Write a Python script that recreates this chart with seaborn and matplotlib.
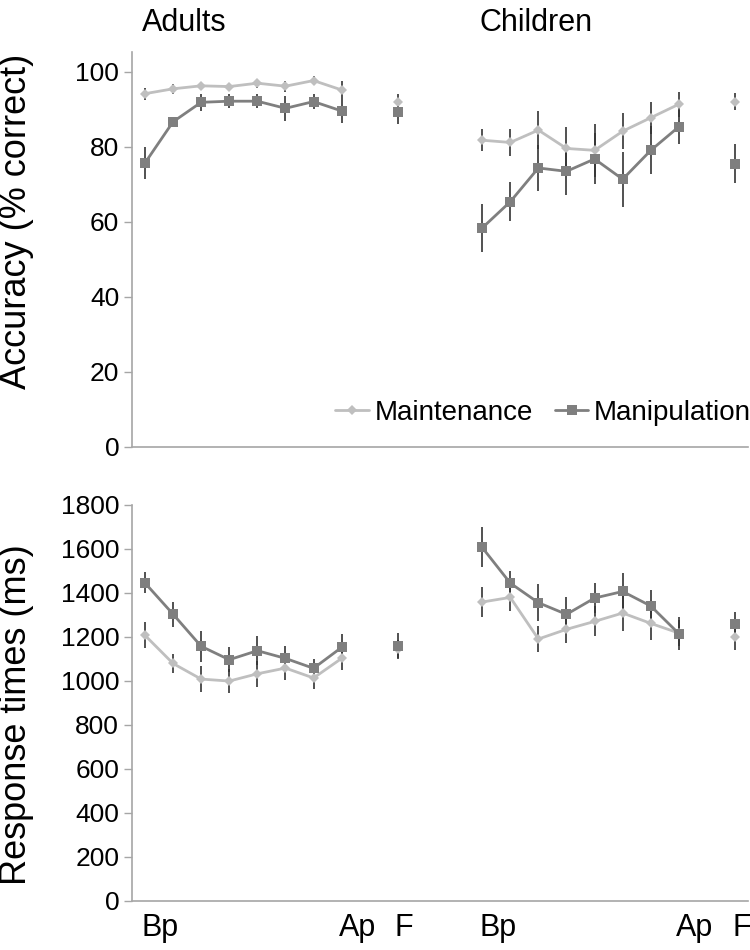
import numpy as np
import pandas as pd
import matplotlib
matplotlib.use("Agg")
import matplotlib.pyplot as plt
import matplotlib.transforms as mtransforms
import seaborn as sns

# x positions: adults Bp..Ap = 0..7, F = 9 ; children Bp..Ap = 12..19, F = 21
adult_x = [0, 1, 2, 3, 4, 5, 6, 7]
child_x = [12, 13, 14, 15, 16, 17, 18, 19]
adult_f = 9
child_f = 21
tick_pos = [0, 7, 9, 12, 19, 21]
tick_labels = ["Bp", "Ap", "F", "Bp", "Ap", "F"]
groups = ["Adults", "Children"]

# accuracy (% correct)
acc_ad_maint = [94.1, 95.4, 96.2, 96.0, 96.9, 96.1, 97.6, 95.1]
acc_ad_maint_err = [1.6, 1.3, 1.0, 1.0, 1.2, 1.5, 1.3, 2.3]
acc_ad_manip = [75.6, 86.6, 91.8, 92.1, 92.1, 90.2, 92.0, 89.5]
acc_ad_manip_err = [4.3, 1.4, 2.3, 1.9, 1.9, 3.3, 2.1, 3.2]
acc_ad_f = [91.8, 89.1]
acc_ad_f_err = [2.2, 3.1]

acc_ch_maint = [81.7, 81.1, 84.4, 79.5, 79.0, 84.1, 87.7, 91.3]
acc_ch_maint_err = [2.9, 3.7, 5.1, 5.8, 7.1, 4.8, 4.3, 3.3]
acc_ch_manip = [58.3, 65.3, 74.3, 73.4, 76.7, 71.3, 79.0, 85.3]
acc_ch_manip_err = [6.3, 5.2, 6.2, 6.4, 6.8, 7.3, 6.4, 4.5]
acc_ch_f = [92.0, 75.4]
acc_ch_f_err = [2.2, 5.2]

# response times (ms)
rt_ad_maint = [1207, 1079, 1008, 999, 1032, 1058, 1013, 1102]
rt_ad_maint_err = [60, 44, 58, 55, 59, 56, 50, 53]
rt_ad_manip = [1445, 1303, 1157, 1096, 1137, 1102, 1057, 1152]
rt_ad_manip_err = [48, 57, 70, 56, 67, 56, 42, 60]
rt_ad_f = [1145, 1157]
rt_ad_f_err = [40, 60]

rt_ch_maint = [1358, 1379, 1190, 1234, 1270, 1308, 1261, 1217]
rt_ch_maint_err = [67, 60, 61, 60, 68, 80, 76, 60]
rt_ch_manip = [1606, 1444, 1355, 1302, 1376, 1406, 1340, 1214]
rt_ch_manip_err = [91, 56, 83, 77, 68, 83, 71, 74]
rt_ch_f = [1198, 1259]
rt_ch_f_err = [60, 53]

conds = ["Maintenance", "Manipulation"]
colors = {"Maintenance": "#BFBFBF", "Manipulation": "#7F7F7F"}
markers = {"Maintenance": "D", "Manipulation": "s"}


def build(ad_maint, ad_manip, ad_f, ch_maint, ch_manip, ch_f,
          e_ad_maint, e_ad_manip, e_ad_f, e_ch_maint, e_ch_manip, e_ch_f):
    rows = []
    for cond, vals, errs in [("Maintenance", ad_maint, e_ad_maint),
                             ("Manipulation", ad_manip, e_ad_manip)]:
        for x, v, e in zip(adult_x, vals, errs):
            rows.append((x, v, e, cond, cond + "_ad"))
    for cond, vals, errs in [("Maintenance", ch_maint, e_ch_maint),
                             ("Manipulation", ch_manip, e_ch_manip)]:
        for x, v, e in zip(child_x, vals, errs):
            rows.append((x, v, e, cond, cond + "_ch"))
    for i, cond in enumerate(conds):
        rows.append((adult_f, ad_f[i], e_ad_f[i], cond, cond + "_adf"))
        rows.append((child_f, ch_f[i], e_ch_f[i], cond, cond + "_chf"))
    return pd.DataFrame(rows, columns=["x", "y", "err", "cond", "seg"])


df_acc = build(acc_ad_maint, acc_ad_manip, acc_ad_f, acc_ch_maint, acc_ch_manip, acc_ch_f,
               acc_ad_maint_err, acc_ad_manip_err, acc_ad_f_err,
               acc_ch_maint_err, acc_ch_manip_err, acc_ch_f_err)
df_rt = build(rt_ad_maint, rt_ad_manip, rt_ad_f, rt_ch_maint, rt_ch_manip, rt_ch_f,
              rt_ad_maint_err, rt_ad_manip_err, rt_ad_f_err,
              rt_ch_maint_err, rt_ch_manip_err, rt_ch_f_err)

sns.set_style("white")
plt.rcParams["font.family"] = ["Liberation Sans", "DejaVu Sans"]
plt.rcParams["text.color"] = "black"
plt.rcParams["axes.labelcolor"] = "black"
plt.rcParams["xtick.labelcolor"] = "black"
plt.rcParams["ytick.labelcolor"] = "black"

fig = plt.figure(figsize=(7.5, 9.5), dpi=100)
ax1 = fig.add_axes([0.1756, 0.5298, 0.8214, 0.4158])
ax2 = fig.add_axes([0.1756, 0.0516, 0.8214, 0.4171])


def draw(ax, df):
    ax.errorbar(df["x"], df["y"], yerr=df["err"], fmt="none",
                ecolor="#333333", elinewidth=1.2, capsize=0, zorder=1)
    sns.lineplot(data=df, x="x", y="y", hue="cond", style="cond", units="seg",
                 estimator=None, palette=colors, markers=markers, dashes=False,
                 hue_order=conds, style_order=conds, linewidth=2,
                 markeredgewidth=0, ax=ax, zorder=2, legend=False)
    for line in ax.lines:
        if line.get_marker() == "D":
            line.set_markersize(5.5)
        elif line.get_marker() == "s":
            line.set_markersize(7.5)
    ax.set_xlim(-0.47, 21.45)
    sns.despine(ax=ax)
    for s in ["left", "bottom"]:
        ax.spines[s].set_color("#A6A6A6")
        ax.spines[s].set_linewidth(1.2)
    ax.tick_params(axis="y", left=True, length=6, width=1, color="#A6A6A6",
                   labelsize=19, pad=3, labelcolor="black")
    ax.set_xlabel("")


draw(ax1, df_acc)
ax1.set_ylim(0, 105.3)
ax1.set_yticks([0, 20, 40, 60, 80, 100])
ax1.set_xticks([])
ax1.set_ylabel("Accuracy (% correct)", fontsize=26, color="black")
ax1.yaxis.set_label_coords(-0.158, 0.57)

draw(ax2, df_rt)
ax2.set_ylim(0, 1800)
ax2.set_yticks(np.arange(0, 1801, 200))
ax2.set_xticks(tick_pos)
ax2.set_xticklabels(tick_labels, fontsize=22, ha="left", color="black")
ax2.tick_params(axis="x", length=0, pad=9)
offset = mtransforms.ScaledTranslation(-3 / 100, 0, fig.dpi_scale_trans)
for lab in ax2.get_xticklabels():
    lab.set_transform(lab.get_transform() + offset)
ax2.set_ylabel("Response times (ms)", fontsize=26, color="black")
ax2.yaxis.set_label_coords(-0.158, 0.47)

# group titles
trans = mtransforms.blended_transform_factory(ax1.transData, ax1.transAxes)
for xg, name in zip([0, 12], groups):
    ax1.text(xg - 0.1, 1.052, name, transform=trans, fontsize=22,
             ha="left", va="baseline", color="black")

# legend
handles = [plt.Line2D([], [], color=colors[c], marker=markers[c],
                      markersize=5.5 if c == "Maintenance" else 7.5,
                      markeredgewidth=0, linewidth=2) for c in conds]
ax1.legend(handles, conds, loc="center right", bbox_to_anchor=(1.005, 0.085),
           ncol=2, frameon=False, fontsize=20, handlelength=1.2,
           handletextpad=0.2, columnspacing=0.8, borderaxespad=0,
           borderpad=0, labelcolor="black")

fig.savefig("out.png", dpi=100)
